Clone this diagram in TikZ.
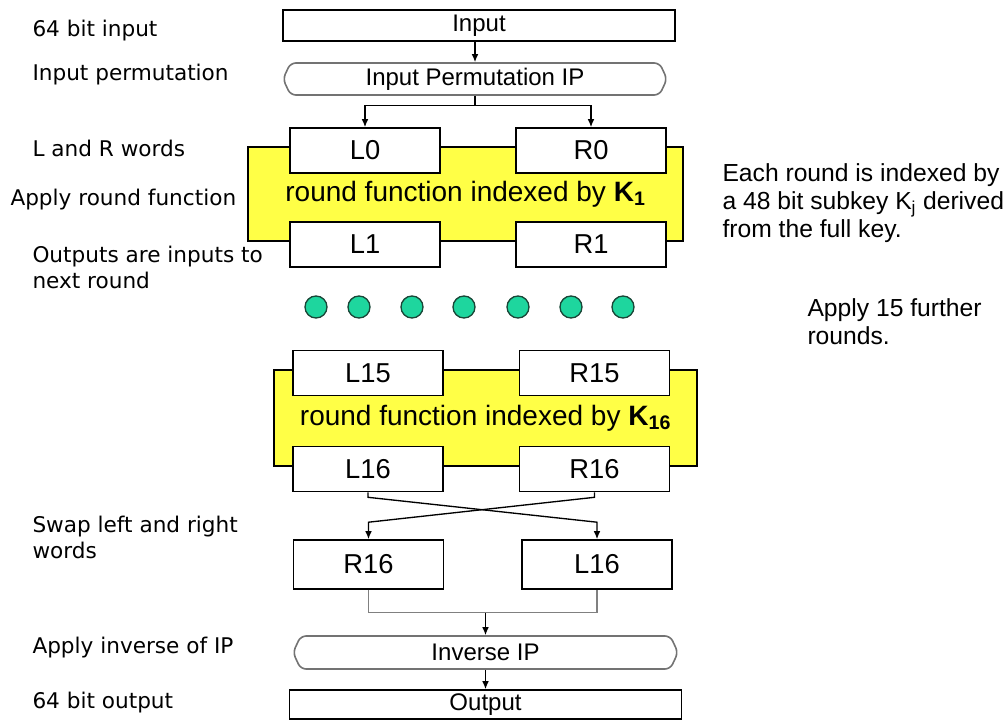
\documentclass[tikz,border=0pt]{standalone}
\usepackage{fontspec}
\setmainfont{Liberation Sans}
\newfontfamily\labelfont{DejaVu Sans}
\usetikzlibrary{arrows.meta,shapes.symbols,calc}

\definecolor{roundyellow}{RGB}{255,255,70}
\definecolor{dotgreen}{RGB}{30,214,158}
\definecolor{dotedge}{RGB}{25,70,55}

\tikzset{every picture/.style={line width=0.75pt}}

\begin{document}
\begin{tikzpicture}[x=0.75pt,y=0.75pt,yscale=-1,xscale=1,
	wordbox/.style={draw, fill=white, line width=1.2pt, minimum width=112.5pt, minimum height=33.75pt, inner sep=0pt, font=\fontsize{20.5}{24}\selectfont},
	roundbox/.style={draw, fill=roundyellow, line width=1.2pt, inner sep=0pt, font=\fontsize{21}{25}\selectfont},
	permbox/.style={draw=black!55, signal, signal to=east and west, signal pointer angle=130, rounded corners=4pt, line width=1.2pt, minimum width=288pt, minimum height=24pt, inner sep=0pt, font=\fontsize{18}{22}\selectfont},
	iobox/.style={draw, line width=1.2pt, minimum width=294pt, inner sep=0pt, font=\fontsize{18}{22}\selectfont},
	dot/.style={circle, draw=dotedge, fill=dotgreen, line width=1pt, minimum size=16.5pt, inner sep=0pt},
	note/.style={anchor=west, align=left, inner sep=0pt, font=\labelfont\fontsize{16.2}{19.5}\selectfont},
	side/.style={anchor=west, align=left, inner sep=0pt, font=\fontsize{18.5}{21}\selectfont},
	arr/.style={line width=1pt, -{Latex[length=6pt,width=5pt]}}
]
	\useasboundingbox (0,0) rectangle (1005,721);

	%Shape: Rectangle
	\node[iobox, minimum height=23.25pt] (in) at (479,25.5) {Input};
	%Shape: Permutation
	\node[permbox] (ip) at (475,79) {Input Permutation IP};

	%Shape: Round 1
	\node[roundbox, minimum width=326.25pt, minimum height=70.5pt] (rf1) at (465.5,194) {round function indexed by \textbf{K\textsubscript{1}}};
	\node[wordbox] (l0) at (365,150.5) {L0};
	\node[wordbox] (r0) at (591,150.5) {R0};
	\node[wordbox] (l1) at (365,244.5) {L1};
	\node[wordbox] (r1) at (591,244.5) {R1};

	%Shape: Circles
	\foreach \x [count=\i] in {316,359,412,464,518,571,623}
		\node[dot] (d\i) at (\x,307) {};

	%Shape: Round 16
	\node[roundbox, minimum width=317.25pt, minimum height=72pt] (rf16) at (485.5,418) {round function indexed by \textbf{K\textsubscript{16}}};
	\node[wordbox] (l15) at (368,373) {L15};
	\node[wordbox] (r15) at (594.5,373) {R15};
	\node[wordbox] (l16) at (368,469) {L16};
	\node[wordbox] (r16) at (594.5,469) {R16};

	%Shape: Swapped words
	\node[wordbox, minimum height=36.75pt] (sr16) at (368.5,564.5) {R16};
	\node[wordbox, minimum height=36.75pt] (sl16) at (597,564.5) {L16};

	\node[permbox, minimum width=288.75pt, minimum height=24.75pt] (inv) at (485.5,652.5) {Inverse IP};
	\node[iobox, minimum height=21.75pt] (out) at (485.5,704.5) {Output};

	%Straight Lines
	\draw[arr] (ip.north |- in.south) -- (ip.north);
	\draw[arr] (ip.south) -- ++(0,10) -| (l0.north);
	\draw[arr] (ip.south) ++(0,10) -| (r0.north);
	\draw[arr] (l16.south) -- ++(0,5) -- ($(sl16.north)+(0,-17)$) -- (sl16.north);
	\draw[arr] (r16.south) -- ++(0,5) -- ($(sr16.north)+(0,-17)$) -- (sr16.north);
	\draw[gray, line width=1pt] (sr16.south) -- ++(0,23) coordinate (join) -| (sl16.south);
	\draw[arr] (join -| inv.north) -- (inv.north);
	\draw[arr] (inv.south) -- (out.north);

	%Text
	\node[note] (n1) at (32,31) {64 bit input};
	\node[note] (n2) at (32,75) {Input permutation};
	\node[note] (n3) at (32,148) {L and R words};
	\node[note] (n4) at (10,200) {Apply round function};
	\node[note] (n5) at (32,267) {Outputs are inputs to\\next round};
	\node[note] (n6) at (32,537) {Swap left and right\\words};
	\node[note] (n7) at (32,648) {Apply inverse of IP};
	\node[note] (n8) at (32,703) {64 bit output};

	\node[side] (s1) at (722,203) {Each round is indexed by\\a 48 bit subkey K\textsubscript{j} derived\\from the full key.};
	\node[side] (s2) at (807,322) {Apply 15 further\\rounds.};

\end{tikzpicture}
\end{document}
